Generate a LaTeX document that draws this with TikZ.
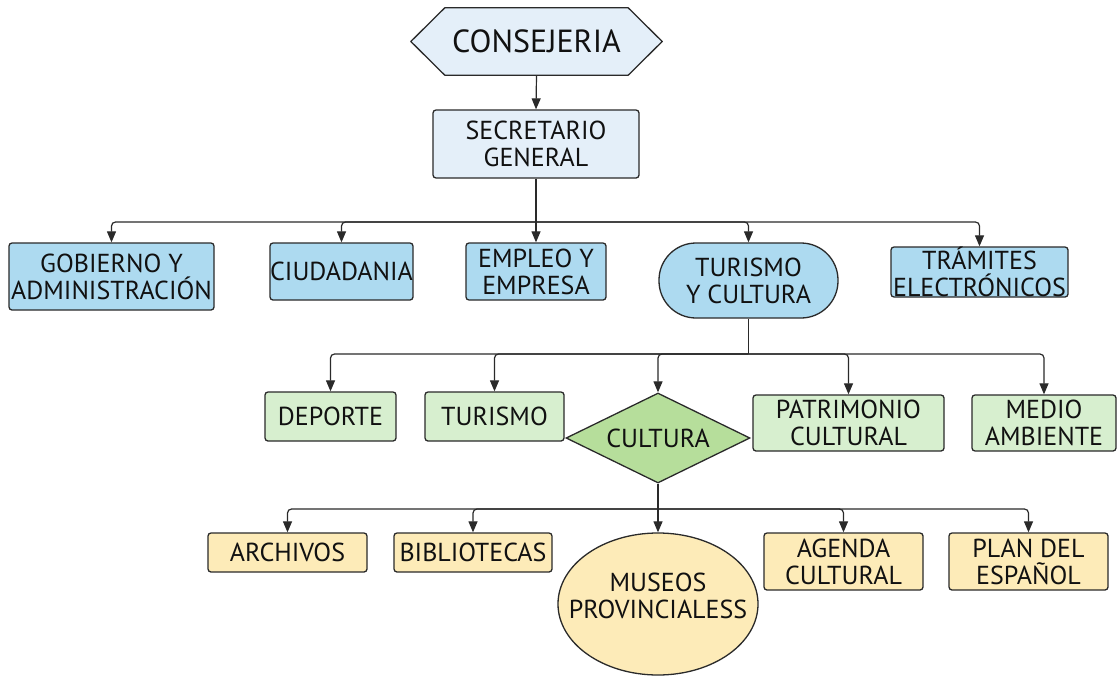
\documentclass[tikz,border=0pt]{standalone}
\usepackage{fontspec}
\setmainfont{PT Sans}
\usetikzlibrary{shapes.geometric,arrows.meta,calc}
\definecolor{strokec}{HTML}{2A2A2A}
\definecolor{textc}{HTML}{111111}
\definecolor{topfill}{HTML}{E4EFF9}
\definecolor{bluefill}{HTML}{ADDAF0}
\definecolor{greenfill}{HTML}{D7EFCF}
\definecolor{diamfill}{HTML}{B6DE9B}
\definecolor{yellowfill}{HTML}{FDEBB8}
\begin{document}
\begin{tikzpicture}[x=1pt,y=-1pt,
  base/.style={draw=strokec, line width=1.3pt, text=textc, align=center, inner sep=0pt,
    font=\fontsize{26}{27}\selectfont},
  box/.style={base, rectangle, rounded corners=3pt},
  bluebox/.style={box, fill=bluefill},
  greenbox/.style={box, fill=greenfill},
  yellowbox/.style={box, fill=yellowfill},
  conn/.style={draw=strokec, line width=1.2pt, rounded corners=4pt, -{Triangle[length=11pt,width=9pt]}},
  wire/.style={draw=strokec, line width=1.2pt, rounded corners=4pt}]
\useasboundingbox (0,0) rectangle (1119,675);
% top
\node[text=textc, inner sep=0pt, minimum width=251pt, minimum height=67pt,
  font=\fontsize{32}{34}\selectfont] (cons) at (536.5,41.5) {\phantom{CONSEJERIA}};
\draw[draw=strokec, line width=1.3pt, fill=topfill, line join=round]
  (cons.west) -- ($(cons.north west)+(34,0)$) -- ($(cons.north east)+(-34,0)$) -- (cons.east)
  -- ($(cons.south east)+(-34,0)$) -- ($(cons.south west)+(34,0)$) -- cycle;
\node[text=textc, inner sep=0pt, font=\fontsize{32}{34}\selectfont] at (cons.center) {CONSEJERIA};
\node[box, fill=topfill, minimum width=206pt, minimum height=68pt] (sec) at (536,144) {SECRETARIO\\GENERAL};
\draw[conn] (cons.south) -- (sec.north);
% level 2
\node[bluebox, minimum width=205pt, minimum height=67pt] (gob) at (111.5,276.5) {\makebox[0pt]{GOBIERNO Y}\\\makebox[0pt]{ADMINISTRACIÓN}};
\node[bluebox, minimum width=143pt, minimum height=57pt] (ciu) at (341.5,271.5) {\makebox[0pt]{CIUDADANIA}};
\node[bluebox, minimum width=140pt, minimum height=57pt] (emp) at (536,271.5) {EMPLEO Y\\EMPRESA};
\node[bluebox, rounded corners=37pt, minimum width=179pt, minimum height=75pt] (tyc) at (748.5,280.5) {TURISMO\\Y CULTURA};
\node[bluebox, minimum width=177pt, minimum height=50pt] (tra) at (979.5,272) {\makebox[0pt]{TRÁMITES}\\\makebox[0pt]{ELECTRÓNICOS}};
\coordinate (b1) at (536,222);
\draw[wire] (sec.south) -- (b1);
\draw[conn] (b1) -| (gob.north);
\draw[conn] (b1) -| (ciu.north);
\draw[conn] (sec.south) -- (emp.north);
\draw[conn] (b1) -| (tyc.north);
\draw[conn] (b1) -| (tra.north);
% level 3
\node[greenbox, minimum width=131pt, minimum height=49pt] (dep) at (330.5,416.5) {DEPORTE};
\node[greenbox, minimum width=139pt, minimum height=49pt] (tur) at (494.5,416.5) {TURISMO};
\node[base, diamond, fill=diamfill, aspect=2, minimum width=184pt, minimum height=90pt] (cul) at (658,438) {CULTURA};
\node[greenbox, minimum width=191pt, minimum height=56pt] (pat) at (848.5,423) {PATRIMONIO\\CULTURAL};
\node[greenbox, minimum width=144pt, minimum height=56pt] (med) at (1044,423) {MEDIO\\AMBIENTE};
\coordinate (b2) at (748.5,354);
\draw[wire] (tyc.south) -- (b2);
\draw[conn] (b2) -| (dep.north);
\draw[conn] (b2) -| (tur.north);
\draw[conn] (b2) -| (cul.north);
\draw[conn] (b2) -| (pat.north);
\draw[conn] (b2) -| (med.north);
% level 4
\node[yellowbox, minimum width=159pt, minimum height=39pt] (arc) at (287.5,552.5) {ARCHIVOS};
\node[yellowbox, minimum width=158pt, minimum height=39pt] (bib) at (473,552.5) {\makebox[0pt]{BIBLIOTECAS}};
\node[base, ellipse, fill=yellowfill, minimum width=200pt, minimum height=142pt] (mus) at (658,604)
  {\raisebox{-2pt}[0pt][0pt]{\begin{tabular}{@{}c@{}}\makebox[0pt]{MUSEOS}\\\makebox[0pt]{PROVINCIALESS}\end{tabular}}};
\node[yellowbox, minimum width=159pt, minimum height=57pt] (age) at (843.5,561.5) {AGENDA\\CULTURAL};
\node[yellowbox, minimum width=159pt, minimum height=57pt] (pla) at (1028.5,561.5) {PLAN DEL\\ESPAÑOL};
\coordinate (b3) at (658,509);
\draw[wire] (cul.south) -- (b3);
\draw[conn] (b3) -| (arc.north);
\draw[conn] (b3) -| (bib.north);
\draw[conn] (cul.south) -- (mus.north);
\draw[conn] (b3) -| (age.north);
\draw[conn] (b3) -| (pla.north);
\end{tikzpicture}
\end{document}
